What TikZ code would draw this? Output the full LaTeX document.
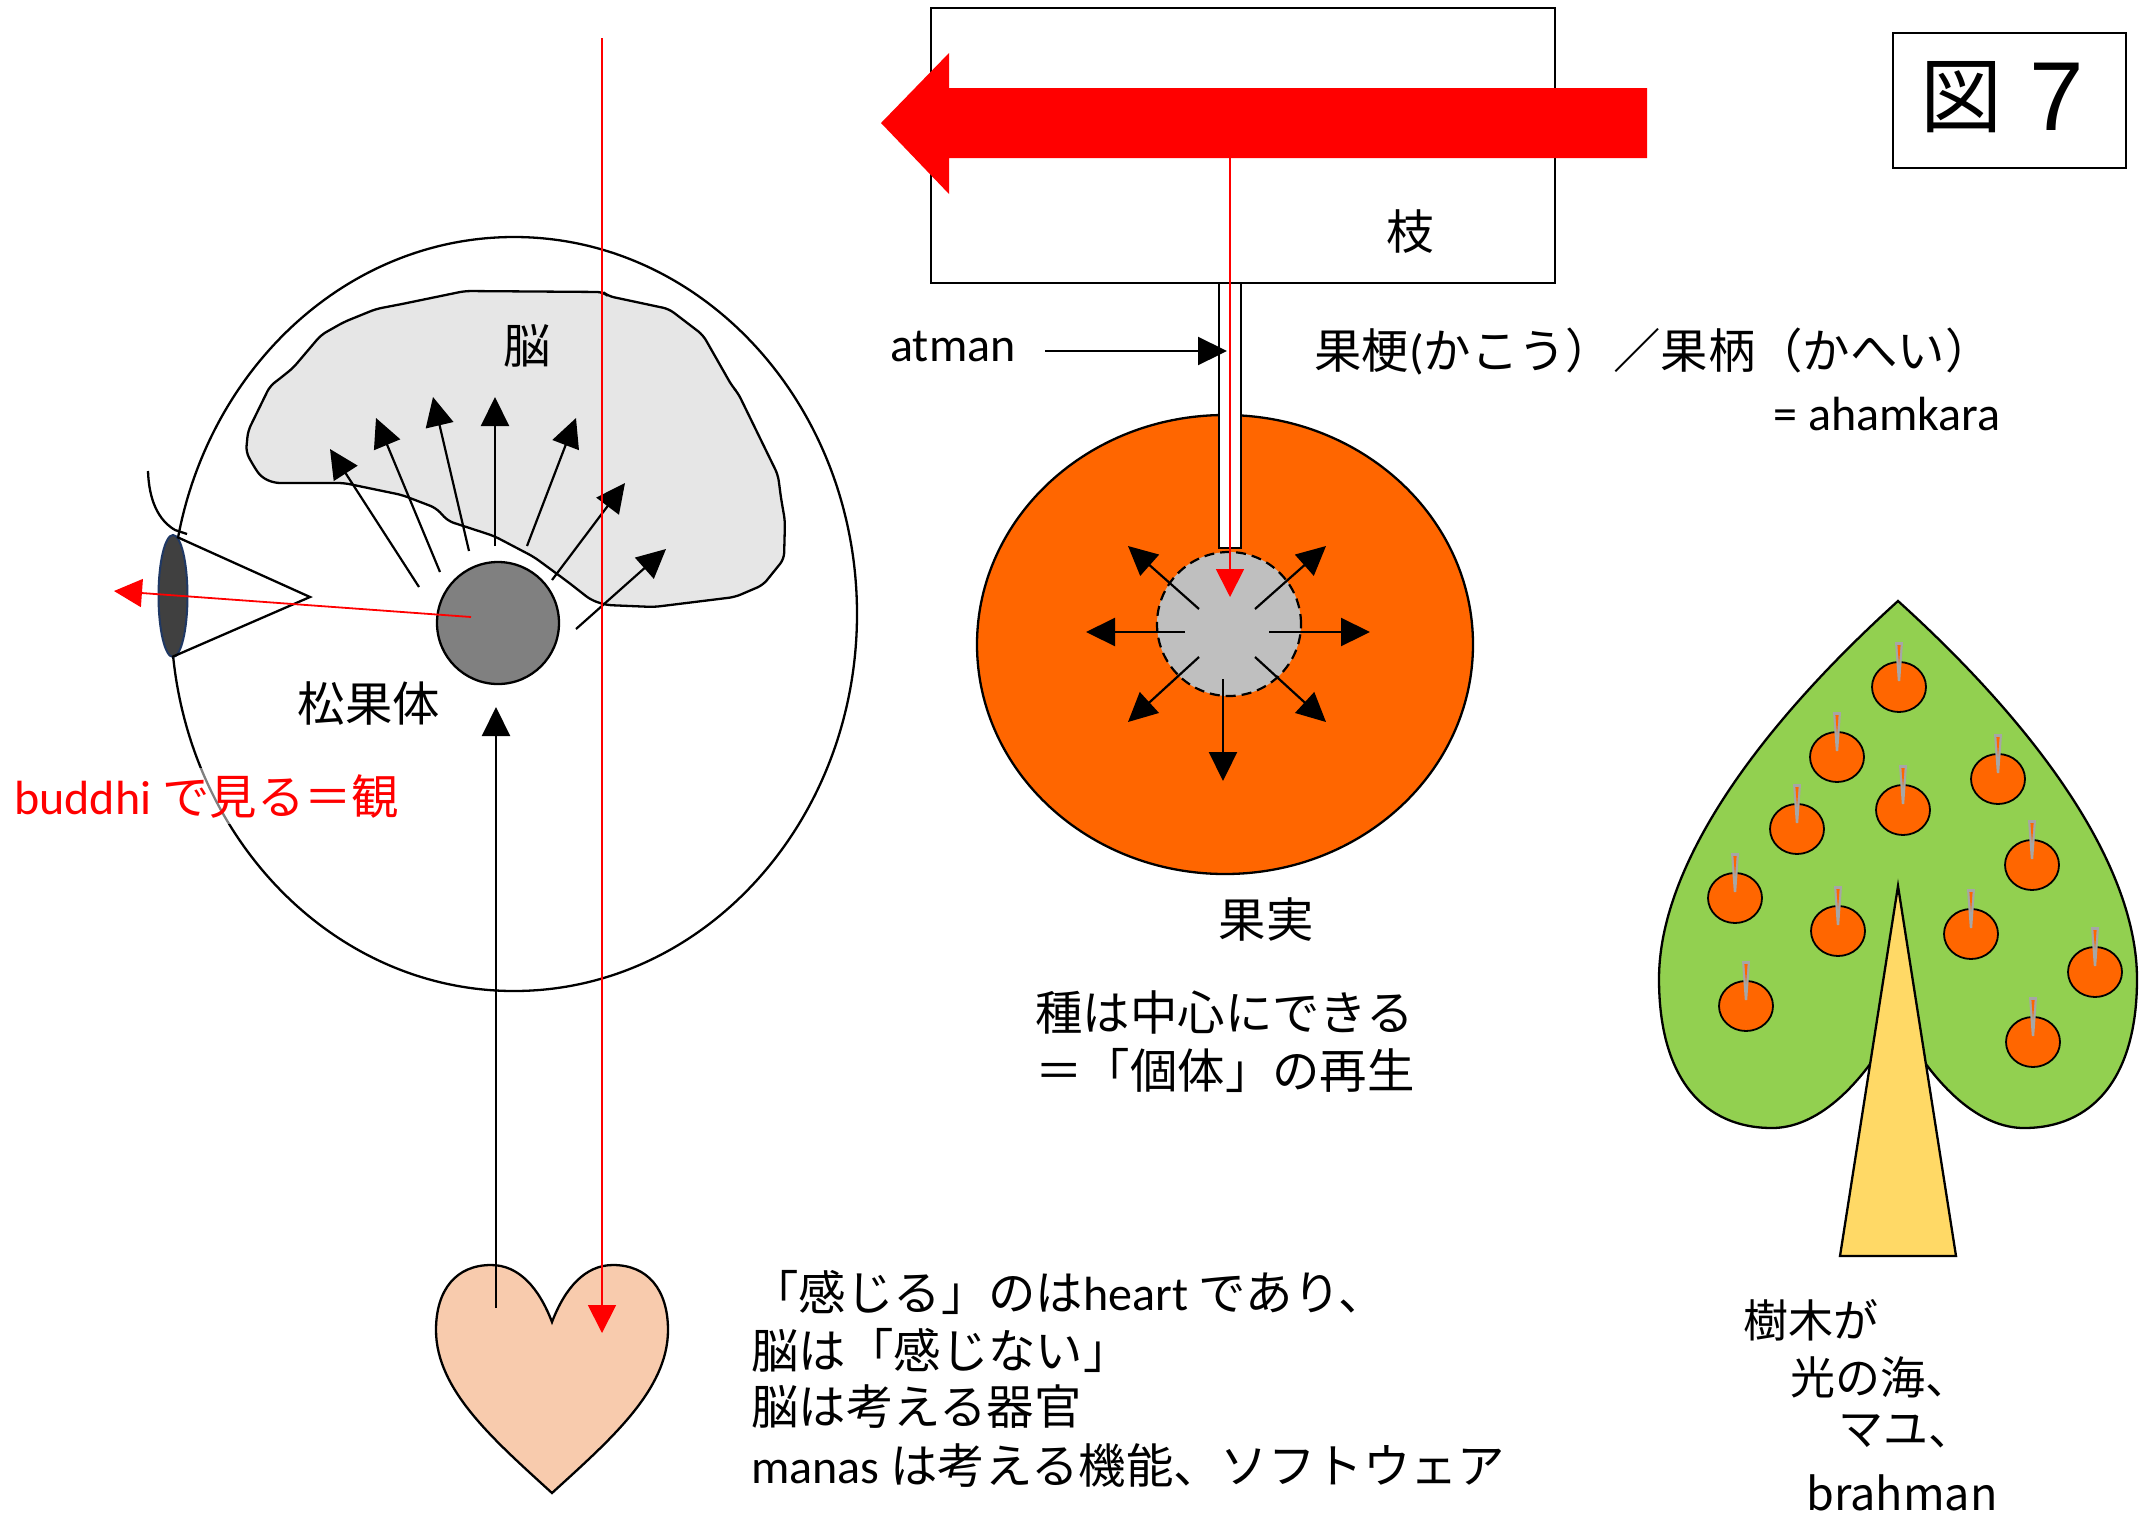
\documentclass[tikz,border=0pt]{standalone}
\usepackage{fontspec}
\setmainfont{Carlito}
\newfontfamily\jp{Noto Sans CJK JP}
\newfontfamily\arialfont{Liberation Sans}
\usetikzlibrary{arrows.meta,shapes.geometric}

\definecolor{brainfill}{RGB}{230,230,230}
\definecolor{pinealgray}{RGB}{128,128,128}
\definecolor{eyedark}{RGB}{64,64,64}
\definecolor{eyerim}{RGB}{31,56,100}
\definecolor{fruitorange}{RGB}{255,102,0}
\definecolor{pitgray}{RGB}{191,191,191}
\definecolor{leafgreen}{RGB}{146,208,80}
\definecolor{trunkyellow}{RGB}{255,217,102}
\definecolor{heartpeach}{RGB}{248,203,173}
\definecolor{stemgray}{RGB}{166,166,166}

\tikzset{
  outline/.style={draw=black, line width=1.15pt},
  blackarrow/.style={draw=black, line width=1.1pt, -{Triangle[length=14.5pt,width=14pt]}},
  redarrow/.style={draw=red, line width=0.9pt, -{Triangle[length=14pt,width=14pt]}},
  txt/.style={inner sep=0pt, font=\fontsize{24}{30}\selectfont},
  jtxt/.style={inner sep=0pt, font=\jp\fontsize{23.7}{30}\selectfont},
  treetxt/.style={inner sep=0pt, anchor=west, font=\jp\fontsize{22.5}{29}\selectfont},
  treefruit/.style={ellipse, draw=black, line width=0.9pt, fill=fruitorange,
    minimum width=27pt, minimum height=25pt, inner sep=0pt},
}

\begin{document}
\begin{tikzpicture}[x=0.5pt,y=-0.5pt]
\path[fill=white,use as bounding box] (0,0) rectangle (2142,1516);

% ---------- head, brain, eye ----------
\node[ellipse, outline, minimum width=343pt, minimum height=377pt, inner sep=0pt] (head) at (514,614) {};

\draw[outline, fill=brainfill, rounded corners=3pt]
  (246,452) -- (248,431) -- (270,386) -- (278,380) -- (293,368) -- (321,335)
  -- (344,322) -- (376,309) -- (402,304) -- (465,291) -- (603,292) -- (608,296)
  -- (669,309) -- (703,335) -- (732,386) -- (738,393) -- (778,475) -- (781,498)
  -- (785,521) -- (784,559) -- (763,585) -- (735,597) -- (654,607) -- (606,605)
  -- (591,600) -- (568,582) -- (534,557) -- (494,536) -- (448,521) -- (436,508)
  -- (402,495) -- (344,483) -- (274,483) -- (261,477) -- (253,465) -- cycle;
\node[jtxt] (brainlabel) at (527,346) {脳};

\draw[outline] (148,471) .. controls (149,500) and (158,520) .. (175,530) -- (187,534);
\node[ellipse, draw=eyerim, line width=1pt, fill=eyedark, minimum width=14.5pt,
      minimum height=61pt, inner sep=0pt] (eye) at (173,596) {};
\coordinate (conetop) at (177,537);
\coordinate (coneapex) at (310,597);
\coordinate (conebot) at (172,657);
\draw[outline, line join=miter] (conetop) -- (coneapex) -- (conebot);

\node[circle, outline, fill=pinealgray, minimum size=61pt, inner sep=0pt] (pineal) at (498,623) {};
\node[jtxt] (pineallabel) at (369,704) {松果体};

\foreach \sx/\sy/\ex/\ey [count=\i] in
  {419/587/330/449, 440/572/376/418, 469/551/433/397, 495/546/495/397,
   527/546/576/418, 552/580/625/483, 576/629/666/549} {
  \coordinate (fanS\i) at (\sx,\sy);
  \coordinate (fanE\i) at (\ex,\ey);
  \draw[blackarrow] (fanS\i) -- (fanE\i);
}

\coordinate (gazestart) at (471,617);
\coordinate (gazetip) at (114,591);
\draw[redarrow] (gazestart) -- (gazetip);

\node[txt, anchor=west, text=red, fill=white, fill opacity=0.5, text opacity=1,
      inner ysep=3pt] (buddhi) at (14,796) {buddhi {\jp\fontsize{23.7}{30}\selectfont で見る＝観}};

% ---------- heart ----------
\draw[outline, fill=heartpeach]
  (552,1322) .. controls (565,1288) and (585,1265) .. (613,1265)
  .. controls (648,1265) and (668,1290) .. (668,1330)
  .. controls (668,1390) and (610,1440) .. (552,1493)
  .. controls (494,1440) and (436,1390) .. (436,1330)
  .. controls (436,1290) and (456,1265) .. (491,1265)
  .. controls (519,1265) and (539,1288) .. (552,1322) -- cycle;

\coordinate (heartcore) at (496,1308);
\coordinate (pinealbelow) at (496,707);
\draw[blackarrow] (heartcore) -- (pinealbelow);

\coordinate (redtop) at (602,38);
\coordinate (redtip) at (602,1333);
\draw[redarrow] (redtop) -- (redtip);

\node[jtxt, anchor=west] (feel1) at (751,1292) {「感じる」のは{\rmfamily\fontsize{24}{30}\selectfont heart }であり、};
\node[jtxt, anchor=west] (feel2) at (751,1350) {脳は「感じない」};
\node[jtxt, anchor=west] (feel3) at (751,1407) {脳は考える器官};
\node[jtxt, anchor=west] (feel4) at (751,1466) {{\rmfamily\fontsize{24}{30}\selectfont manas }は考える機能、ソフトウェア};

% ---------- branch, stalk, fruit ----------
\node[draw, line width=1pt, minimum width=312pt, minimum height=137.5pt, inner sep=0pt] (branch) at (1243,145.5) {};
\node[jtxt] (branchlabel) at (1410,232) {枝};
\fill[red] (881,123) -- (949,53) -- (949,88) -- (1647,88) -- (1647,158)
  -- (949,158) -- (949,194) -- cycle;

\node[ellipse, outline, fill=fruitorange, minimum width=248pt, minimum height=229.5pt,
      inner sep=0pt] (fruit) at (1225,644.5) {};
\node[circle, draw, line width=1.1pt, dash pattern=on 5pt off 3pt, fill=pitgray,
      minimum size=72pt, inner sep=0pt] (pit) at (1229,624) {};

\foreach \sx/\sy/\ex/\ey [count=\i] in
  {1185/632/1086/632, 1269/632/1370/632, 1199/609/1128/546, 1255/609/1326/546,
   1199/657/1128/722, 1255/657/1326/722, 1223/679/1223/781} {
  \coordinate (seedS\i) at (\sx,\sy);
  \coordinate (seedE\i) at (\ex,\ey);
  \draw[blackarrow] (seedS\i) -- (seedE\i);
}

\node[draw, fill=white, line width=1pt, minimum width=11pt, minimum height=132.5pt,
      inner sep=0pt] (stalk) at (1230,415.5) {};
\coordinate (lighttop) at (1230,158);
\coordinate (lighttip) at (1230,597);
\draw[redarrow] (lighttop) -- (lighttip);

\node[txt] (atman) at (953,346) {atman};
\coordinate (atmanfrom) at (1045,351);
\coordinate (atmanto) at (1227,351);
\draw[blackarrow] (atmanfrom) -- (atmanto);

\node[jtxt, anchor=west] (stalklabel) at (1314,352) {果梗{\rmfamily\fontsize{24}{30}\selectfont (}かこう）／果柄（かへい）};
\node[txt, anchor=west] (ahamkara) at (1773,414) {= ahamkara};
\node[jtxt] (fruitlabel) at (1266,920) {果実};
\node[jtxt, anchor=west] (seed1) at (1035,1012) {種は中心にできる};
\node[jtxt, anchor=west] (seed2) at (1035,1070) {＝「個体」の再生};

% ---------- figure tag ----------
\node[draw, line width=0.8pt, minimum width=116.5pt, minimum height=67.5pt, inner sep=0pt] (figbox) at (2009.5,100.5) {};
\node[inner sep=0pt, font=\jp\fontsize{41}{41}\selectfont] (figkanji) at (1961,97) {図};
\node[inner sep=0pt, font=\arialfont\fontsize{49}{49}\selectfont] (fignum) at (2057,97) {7};

% ---------- tree ----------
\draw[outline, fill=leafgreen]
  (1898,601) .. controls (1750,735) and (1659,870) .. (1659,979)
  .. controls (1659,1080) and (1705,1128) .. (1772,1128)
  .. controls (1815,1128) and (1860,1090) .. (1898,1020)
  .. controls (1936,1090) and (1981,1128) .. (2024,1128)
  .. controls (2091,1128) and (2137,1080) .. (2137,979)
  .. controls (2137,870) and (2046,735) .. (1898,601) -- cycle;
\draw[outline, fill=trunkyellow, line join=miter] (1898,886) -- (1840,1256) -- (1956,1256) -- cycle;

\foreach \fx/\fy [count=\i] in
  {1899/687, 1837/757, 1998/779, 1797/829, 1903/810, 2032/865,
   1735/898, 1838/931, 1971/934, 2095/972, 1746/1006, 2033/1042} {
  \node[treefruit] (treefruit\i) at (\fx,\fy) {};
  \fill[stemgray] (\fx-4,\fy-45) -- (\fx+4,\fy-45) -- (\fx+1.2,\fy-6) -- (\fx-1.2,\fy-6) -- cycle;
  \fill[fruitorange] (\fx-1.6,\fy-42) -- (\fx+1.6,\fy-42) -- (\fx,\fy-22) -- cycle;
}

\node[treetxt] (tree1) at (1743,1320) {樹木が};
\node[treetxt] (tree2) at (1790,1377) {光の海、};
\node[treetxt] (tree3) at (1838,1431) {マユ、};
\node[treetxt] (tree4) at (1806,1493) {brahman};
\end{tikzpicture}
\end{document}
